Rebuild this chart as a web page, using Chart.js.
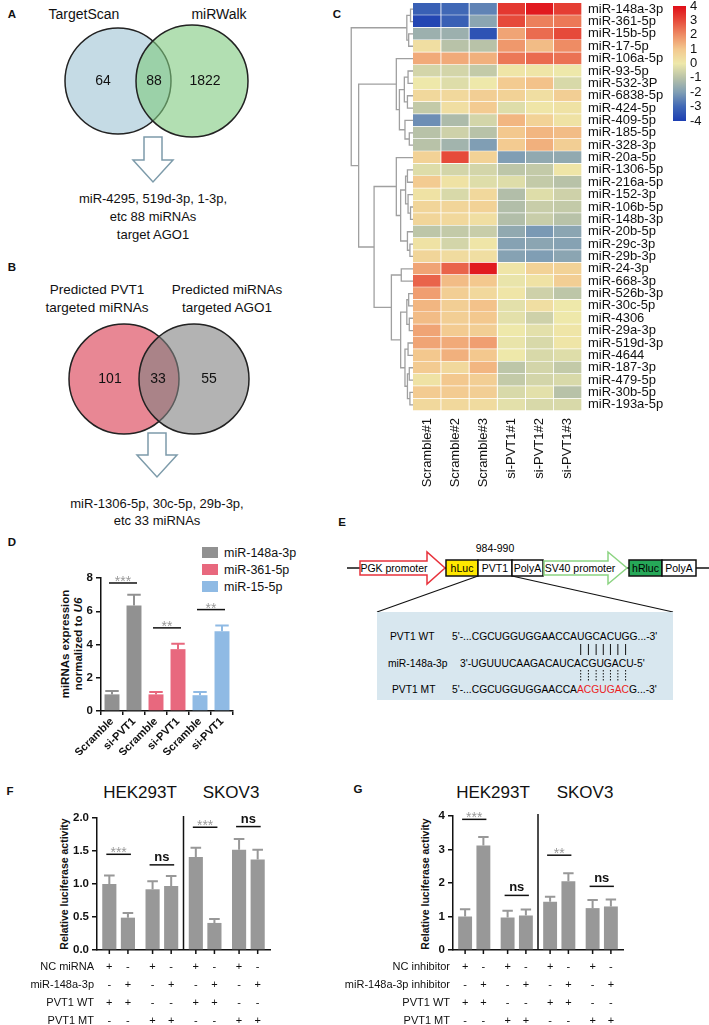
<!DOCTYPE html>
<html>
<head>
<meta charset="utf-8">
<script src="https://cdn.jsdelivr.net/npm/chart.js@4.4.1/dist/chart.umd.min.js"></script>
<style>
body { margin: 0; background: #fff; }
#page { position: relative; width: 709px; height: 1025px; overflow: hidden; font-family: 'Liberation Sans', Arial, sans-serif; color: #111; }
.t { position: absolute; white-space: nowrap; transform: translate(-50%, -50%); line-height: 1; }
.p { position: absolute; font-weight: bold; font-size: 11.5px; transform: translate(-50%, -50%); }
.yt { position: absolute; white-space: nowrap; font-weight: bold; text-align: center; line-height: 1.15; transform: translate(-50%, -50%) rotate(-90deg); }
.lg { position: absolute; font-size: 12.5px; white-space: nowrap; line-height: 1; }
.lg span { display: inline-block; width: 16px; height: 11px; margin-right: 6px; vertical-align: -1px; }
canvas { position: absolute; }
svg { position: absolute; left: 0; top: 0; }
</style>
</head>
<body>
<div id="page">
  <svg width="709" height="1025" font-family="'Liberation Sans', Arial, sans-serif">
    <!-- arrows under the venns -->
    <polygon points="144,137 162,137 162,160 173,160 153,182 133,160 144,160" fill="#fff" stroke="rgb(125,155,170)" stroke-width="1.5"/>
    <polygon points="148,433 166,433 166,455 177,455 157,477 137,455 148,455" fill="#fff" stroke="rgb(125,155,170)" stroke-width="1.5"/>
    <!-- panel E construct -->
    <line x1="347" y1="568" x2="709" y2="568" stroke="#111" stroke-width="1.5"/>
    <polygon points="360,561 427,561 427,552 445,568 427,584 427,575 360,575" fill="#fff" stroke="rgb(232,50,60)" stroke-width="1.5"/>
    <text x="394" y="568" font-size="10.5" text-anchor="middle" dominant-baseline="central">PGK promoter</text>
    <rect x="446" y="560" width="32" height="16" fill="rgb(255,232,0)" stroke="#111" stroke-width="1.5"/>
    <text x="462" y="568" font-size="10.5" text-anchor="middle" dominant-baseline="central">hLuc</text>
    <rect x="478" y="560" width="34" height="16" fill="#fff" stroke="#111" stroke-width="1.5"/>
    <text x="495" y="568" font-size="10.5" text-anchor="middle" dominant-baseline="central">PVT1</text>
    <rect x="512" y="560" width="31" height="16" fill="#fff" stroke="#111" stroke-width="1.5"/>
    <text x="527.5" y="568" font-size="10.5" text-anchor="middle" dominant-baseline="central">PolyA</text>
    <polygon points="544,561 608,561 608,552 627,568 608,584 608,575 544,575" fill="#fff" stroke="rgb(140,212,130)" stroke-width="1.5"/>
    <text x="580" y="568" font-size="10.5" text-anchor="middle" dominant-baseline="central">SV40 promoter</text>
    <rect x="629" y="560" width="33" height="16" fill="rgb(38,168,88)" stroke="#111" stroke-width="1.5"/>
    <text x="645.5" y="568" font-size="10.5" text-anchor="middle" dominant-baseline="central">hRluc</text>
    <rect x="662" y="560" width="34" height="16" fill="#fff" stroke="#111" stroke-width="1.5"/>
    <text x="679" y="568" font-size="10.5" text-anchor="middle" dominant-baseline="central">PolyA</text>
    <text x="495" y="548" font-size="10.5" text-anchor="middle" dominant-baseline="central">984-990</text>
    <line x1="478" y1="576" x2="377" y2="612" stroke="#111" stroke-width="1.2"/>
    <line x1="512" y1="576" x2="673" y2="612" stroke="#111" stroke-width="1.2"/>
    <rect x="377" y="612" width="296" height="88" fill="rgb(216,231,239)"/>
    <text x="390" y="636" font-size="10.3" dominant-baseline="central">PVT1 WT</text>
    <text id="seqWT" x="452" y="636" font-size="10.3" dominant-baseline="central">5'-...CGCUGGUGGAACCAUGCACUGG...-3'</text>
    <text x="388" y="663" font-size="10.3" dominant-baseline="central">miR-148a-3p</text>
    <text x="460" y="663" font-size="10.3" dominant-baseline="central">3'-UGUUUCAAGACAUCACGUGACU-5'</text>
    <text x="392" y="689" font-size="10.3" dominant-baseline="central">PVT1 MT</text>
    <text x="452" y="689" font-size="10.3" dominant-baseline="central">5'-...CGCUGGUGGAACCA<tspan fill="rgb(235,30,30)">ACGUGAC</tspan>G...-3'</text>
    <g id="pairs"></g>
  </svg>

  <div class="p" style="left:12px;top:14px">A</div>
  <div class="t" style="left:84px;top:14px;font-size:14px">TargetScan</div>
  <div class="t" style="left:219px;top:14px;font-size:14px">miRWalk</div>
  <canvas id="vennA" width="300" height="125" style="left:0;top:20px"></canvas>
  <div class="t" style="left:153px;top:198px;font-size:13px">miR-4295, 519d-3p, 1-3p,</div>
  <div class="t" style="left:153px;top:216px;font-size:13px">etc 88 miRNAs</div>
  <div class="t" style="left:153px;top:234px;font-size:13px">target AGO1</div>

  <div class="p" style="left:12px;top:267px">B</div>
  <div class="t" style="left:97px;top:290px;font-size:13.5px">Predicted PVT1</div>
  <div class="t" style="left:97px;top:308px;font-size:13.5px">targeted miRNAs</div>
  <div class="t" style="left:227px;top:290px;font-size:13.5px">Predicted miRNAs</div>
  <div class="t" style="left:227px;top:308px;font-size:13.5px">targeted AGO1</div>
  <canvas id="vennB" width="300" height="125" style="left:0;top:320px"></canvas>
  <div class="t" style="left:157px;top:503px;font-size:13px">miR-1306-5p, 30c-5p, 29b-3p,</div>
  <div class="t" style="left:157px;top:520px;font-size:13px">etc 33 miRNAs</div>

  <div class="p" style="left:337px;top:14px">C</div>
  <canvas id="dendro" width="63" height="408" style="left:350px;top:3px"></canvas>
  <canvas id="heat" width="260" height="500" style="left:413px;top:0"></canvas>
  <canvas id="cbar" width="36" height="128" style="left:673px;top:0"></canvas>

  <div class="p" style="left:12px;top:542px">D</div>
  <div class="lg" style="left:202px;top:547px"><span style="background:rgb(145,145,145)"></span>miR-148a-3p</div>
  <div class="lg" style="left:202px;top:564px"><span style="background:rgb(232,104,126)"></span>miR-361-5p</div>
  <div class="lg" style="left:202px;top:581px"><span style="background:rgb(143,186,228)"></span>miR-15-5p</div>
  <div class="yt" style="left:72px;top:644px;font-size:11.5px">miRNAs expression<br>normalized to <i>U6</i></div>
  <canvas id="chD" width="185" height="185" style="left:55px;top:570px"></canvas>

  <div class="p" style="left:342px;top:522px">E</div>

  <div class="p" style="left:10px;top:791px">F</div>
  <div class="t" style="left:140px;top:792px;font-size:17px">HEK293T</div>
  <div class="t" style="left:231px;top:792px;font-size:17px">SKOV3</div>
  <div class="yt" style="left:64px;top:884px;font-size:10.5px">Relative luciferase activity</div>
  <canvas id="chF" width="285" height="235" style="left:0;top:790px"></canvas>

  <div class="p" style="left:358px;top:789px">G</div>
  <div class="t" style="left:493px;top:792px;font-size:17px">HEK293T</div>
  <div class="t" style="left:585px;top:792px;font-size:17px">SKOV3</div>
  <div class="yt" style="left:425px;top:884px;font-size:10.5px">Relative luciferase activity</div>
  <canvas id="chG" width="298" height="235" style="left:340px;top:790px"></canvas>
</div>

<script>
Chart.defaults.font.family = "'Liberation Sans', Arial, sans-serif";
Chart.defaults.color = '#111';
Chart.defaults.animation = false;
Chart.defaults.responsive = false;
Chart.defaults.plugins.legend.display = false;
Chart.defaults.plugins.tooltip.enabled = false;

// ---- data ----
const vennCountsA = [64, 88, 1822];
const vennCountsB = [101, 33, 55];

const mirNames = ['miR-148a-3p', 'miR-361-5p', 'miR-15b-5p', 'miR-17-5p', 'miR-106a-5p', 'miR-93-5p',
  'miR-532-3P', 'miR-6838-5p', 'miR-424-5p', 'miR-409-5p', 'miR-185-5p', 'miR-328-3p', 'miR-20a-5p',
  'miR-1306-5p', 'miR-216a-5p', 'miR-152-3p', 'miR-106b-5p', 'miR-148b-3p', 'miR-20b-5p', 'miR-29c-3p',
  'miR-29b-3p', 'miR-24-3p', 'miR-668-3p', 'miR-526b-3p', 'miR-30c-5p', 'miR-4306', 'miR-29a-3p',
  'miR-519d-3p', 'miR-4644', 'miR-187-3p', 'miR-479-5p', 'miR-30b-5p', 'miR-193a-5p'];
const colNames = ['Scramble#1', 'Scramble#2', 'Scramble#3', 'si-PVT1#1', 'si-PVT1#2', 'si-PVT1#3'];
const heatValues = [
  [-3.2, -3.0, -2.5, 3.3, 3.8, 3.2],
  [-3.8, -3.2, -1.8, 3.0, 2.2, 2.3],
  [-1.5, -1.5, -3.5, 1.6, 2.5, 3.0],
  [0.3, -1.0, -1.0, 1.8, 1.2, 2.0],
  [1.5, 1.5, 1.4, 2.3, 2.5, 2.4],
  [-0.5, -0.5, -0.8, 0.1, 0.1, 0.0],
  [0.0, -0.3, 0.0, 0.9, 1.1, -0.4],
  [0.5, 0.5, 0.8, 0.7, 0.3, 0.8],
  [-0.8, 0.3, 0.9, -0.3, 0.1, 0.2],
  [-2.3, -1.2, -0.5, 1.3, 0.7, 0.2],
  [-1.0, -0.6, -1.0, 1.0, 1.3, 1.2],
  [-1.0, -1.4, -2.0, 0.9, 1.4, 0.8],
  [0.7, 3.0, 0.7, -2.0, -1.7, -1.7],
  [-0.3, -0.5, -0.5, -0.9, -0.8, 0.1],
  [0.9, 0.2, -0.3, -0.3, -0.8, -1.0],
  [0.2, -0.4, 0.5, -1.1, -0.3, -0.6],
  [0.6, 0.6, 0.7, -1.1, -0.7, -0.8],
  [0.6, 0.5, 0.3, -1.1, -0.7, -1.0],
  [-0.9, -0.8, -0.7, -1.7, -2.1, -1.8],
  [0.2, -0.5, 0.1, -1.9, -1.8, -1.9],
  [0.6, 0.4, 0.3, -1.9, -2.0, -1.8],
  [1.6, 2.6, 3.8, 0.1, 0.7, 0.7],
  [2.6, 1.2, 1.0, -0.1, 0.2, 0.8],
  [1.7, 0.8, 0.5, 0.1, -0.6, -0.9],
  [1.3, 0.8, 1.1, -0.2, 0.3, 0.0],
  [1.2, 0.8, 1.0, -0.2, -0.6, 0.0],
  [1.6, 0.9, 0.8, 0.0, -0.2, 0.1],
  [1.6, 1.5, 1.7, -0.1, -0.4, 0.1],
  [1.0, 1.4, 1.0, 0.0, -0.4, -0.3],
  [0.9, 0.5, 1.3, -0.9, -0.5, -0.8],
  [0.2, 1.0, 0.8, -0.8, -0.5, -0.4],
  [0.9, 0.9, 0.8, -0.4, -0.2, -1.0],
  [0.5, 0.5, 0.4, -0.2, -0.4, -0.4]
];
// row clustering: [childA, childB, height]; leaves are 0..32, merges get ids 33, 34, ...
const dendroMerges = [
  [0, 1, 0.4], [2, 3, 0.7], [33, 34, 1.0],
  [5, 6, 0.8], [7, 8, 0.9], [36, 37, 1.4], [10, 11, 0.6], [9, 39, 1.3], [38, 40, 2.2], [4, 41, 2.7],
  [13, 14, 0.9], [16, 17, 0.4], [15, 44, 0.8], [43, 45, 1.2], [19, 20, 0.5], [18, 47, 0.9], [46, 48, 2.0], [12, 49, 2.7],
  [21, 22, 1.9], [23, 24, 0.7], [25, 26, 0.6], [52, 53, 1.0], [27, 28, 0.8], [29, 30, 0.6], [31, 32, 0.5],
  [56, 57, 0.9], [55, 58, 1.3], [54, 59, 2.0], [51, 60, 3.5], [50, 61, 6.3], [42, 62, 8.8], [35, 63, 10.0]
];
const cbarTicks = [-4, -3, -2, -1, 0, 1, 2, 3, 4];

const dLabels = ['Scramble', 'si-PVT1', 'Scramble', 'si-PVT1', 'Scramble', 'si-PVT1'];
const dSeries = ['miR-148a-3p', 'miR-361-5p', 'miR-15-5p'];
const dMeans = [[1.0, 6.35], [1.0, 3.72], [0.95, 4.8]];
const dErrs = [[0.2, 0.65], [0.15, 0.33], [0.2, 0.35]];
const dSig = [['***', 7.7], ['**', 5.0], ['**', 6.1]];

const fGroups = ['HEK293T WT', 'HEK293T MT', 'SKOV3 WT', 'SKOV3 MT'];
const fNC = [1.0, 0.92, 1.41, 1.52];
const fNCErr = [0.13, 0.12, 0.14, 0.16];
const fMiR = [0.49, 0.97, 0.41, 1.37];
const fMiRErr = [0.07, 0.15, 0.06, 0.15];
const fSig = [['***', 1.45], ['ns', 1.29], ['***', 1.86], ['ns', 1.87]];
const fRowNames = ['NC miRNA', 'miR-148a-3p', 'PVT1 WT', 'PVT1 MT'];

const gNC = [1.0, 0.97, 1.44, 1.25];
const gNCErr = [0.22, 0.2, 0.15, 0.24];
const gInh = [3.12, 1.03, 2.05, 1.3];
const gInhErr = [0.25, 0.18, 0.24, 0.21];
const gSig = [['***', 3.9], ['ns', 1.63], ['**', 2.83], ['ns', 1.9]];
const gRowNames = ['NC inhibitor', 'miR-148a-3p inhibitor', 'PVT1 WT', 'PVT1 MT'];

const signRows = [
  ['+', '-', '+', '-', '+', '-', '+', '-'],
  ['-', '+', '-', '+', '-', '+', '-', '+'],
  ['+', '+', '-', '-', '+', '+', '-', '-'],
  ['-', '-', '+', '+', '-', '-', '+', '+']
];

// ---- helpers ----
const heatStops = [
  [-4, [28, 62, 178]], [-3, [64, 104, 182]], [-2, [128, 158, 180]], [-1, [184, 194, 168]],
  [0, [238, 232, 170]], [1, [243, 200, 142]], [2, [238, 140, 100]], [3, [230, 74, 58]], [4, [224, 14, 24]]
];
function heatColor(v) {
  v = Math.max(-4, Math.min(4, v));
  for (let i = 0; i < heatStops.length - 1; i++) {
    const [a, ca] = heatStops[i], [b, cb] = heatStops[i + 1];
    if (v <= b) {
      const t = (v - a) / (b - a);
      return 'rgb(' + ca.map((c, k) => Math.round(c + (cb[k] - c) * t)).join(',') + ')';
    }
  }
}
function pin(size) {
  return s => {
    if (s.isHorizontal()) s.height = size; else s.width = size;
    s.paddingLeft = 0; s.paddingRight = 0; s.paddingTop = 0; s.paddingBottom = 0;
  };
}

// venn numbers drawn at the region centres
const vennText = {
  id: 'vennText',
  afterDatasetsDraw(chart, args, opts) {
    const c = chart.ctx;
    c.save();
    c.font = '14px ' + Chart.defaults.font.family;
    c.fillStyle = '#111';
    c.textAlign = 'center';
    c.textBaseline = 'middle';
    opts.counts.forEach((n, i) => {
      c.fillText(String(n), chart.scales.x.getPixelForValue(opts.at[i]), chart.scales.y.getPixelForValue(opts.y));
    });
    c.restore();
  }
};
function venn(id, counts, lay) {
  return new Chart(document.getElementById(id), {
    type: 'bubble',
    data: {
      datasets: [
        { data: [{ x: lay.cx[1], y: lay.cy, r: lay.r[1] }], backgroundColor: lay.fill[1], borderColor: '#222', borderWidth: 1.5, order: 1, clip: false },
        { data: [{ x: lay.cx[0], y: lay.cy, r: lay.r[0] }], backgroundColor: lay.fill[0], borderColor: '#222', borderWidth: 1.5, order: 2, clip: false }
      ]
    },
    options: {
      layout: { padding: 0, autoPadding: false },
      events: [],
      scales: {
        x: { display: false, min: 0, max: 300 },
        y: { display: false, min: 0, max: 125, reverse: true }
      },
      plugins: { vennText: { counts: counts, at: lay.numX, y: lay.cy } }
    },
    plugins: [vennText]
  });
}
venn('vennA', vennCountsA, { cx: [118, 192], cy: 61, r: [53, 56], numX: [103, 154, 205],
  fill: ['rgb(197,219,229)', 'rgba(127,202,127,0.6)'] });
venn('vennB', vennCountsB, { cx: [124, 194], cy: 59, r: [55, 55], numX: [110, 158, 209],
  fill: ['rgb(232,135,148)', 'rgba(128,128,128,0.6)'] });

// ---- heatmap (C) ----
new Chart(document.getElementById('heat'), {
  type: 'bar',
  data: {
    labels: mirNames,
    datasets: colNames.map((c, j) => ({
      label: c,
      data: mirNames.map(() => 1),
      backgroundColor: heatValues.map(r => heatColor(r[j])),
      borderColor: '#fff',
      borderWidth: { top: 0, left: 0, right: 1, bottom: 1 },
      borderSkipped: false,
      barPercentage: 1,
      categoryPercentage: 1
    }))
  },
  options: {
    indexAxis: 'y',
    layout: { padding: { top: 3, left: 0, right: 0, bottom: 0 }, autoPadding: false },
    scales: {
      x: {
        stacked: true, min: 0, max: colNames.length,
        afterBuildTicks: s => { s.ticks = colNames.map((c, i) => ({ value: i + 0.5 })); },
        ticks: { callback: (v, i) => colNames[i], minRotation: 90, maxRotation: 90, autoSkip: false,
          font: { size: 13 }, color: '#111', padding: 7 },
        grid: { display: false, drawTicks: false }, border: { display: false },
        afterFit: pin(89)
      },
      y: {
        stacked: true, position: 'right',
        ticks: { autoSkip: false, font: { size: 13 }, color: '#111', padding: 6 },
        grid: { display: false, drawTicks: false }, border: { display: false },
        afterFit: pin(91)
      }
    }
  }
});

// dendrogram on the left of the heatmap
const nodePos = mirNames.map((m, i) => ({ y: i, h: 0 }));
dendroMerges.forEach(([a, b, h]) => nodePos.push({ y: (nodePos[a].y + nodePos[b].y) / 2, h: h }));
new Chart(document.getElementById('dendro'), {
  type: 'scatter',
  data: {
    datasets: dendroMerges.map(([a, b, h]) => ({
      data: [
        { x: nodePos[a].h, y: nodePos[a].y }, { x: h, y: nodePos[a].y },
        { x: h, y: nodePos[b].y }, { x: nodePos[b].h, y: nodePos[b].y }
      ],
      showLine: true, borderColor: 'rgb(160,160,160)', borderWidth: 1.3, pointRadius: 0, clip: false
    }))
  },
  options: {
    layout: { padding: 0, autoPadding: false },
    events: [],
    scales: {
      x: { display: false, min: 0, max: 10.2, reverse: true },
      y: { display: false, min: -0.5, max: mirNames.length - 0.5, reverse: true }
    }
  }
});

// colour key
new Chart(document.getElementById('cbar'), {
  type: 'bar',
  data: {
    labels: [''],
    datasets: [{
      data: [[cbarTicks[0], cbarTicks[cbarTicks.length - 1]]],
      barPercentage: 1, categoryPercentage: 1,
      backgroundColor: ctx => {
        const ch = ctx.chart, area = ch.chartArea;
        if (!area) return '#ccc';
        const g = ch.ctx.createLinearGradient(0, area.bottom, 0, area.top);
        cbarTicks.forEach(v => g.addColorStop((v + 4) / 8, heatColor(v)));
        return g;
      }
    }]
  },
  options: {
    layout: { padding: { top: 6, bottom: 7, left: 0, right: 0 }, autoPadding: false },
    scales: {
      x: { display: false },
      y: { position: 'right', min: -4, max: 4,
        ticks: { stepSize: 1, autoSkip: false, font: { size: 13 }, color: '#111', padding: 4 },
        grid: { display: false, drawTicks: false }, border: { display: false }, afterFit: pin(23) }
    }
  }
});

// ---- bar panels (D, F, G) ----
const extras = {
  id: 'extras',
  afterDatasetsDraw(chart, args, o) {
    const c = chart.ctx, ys = chart.scales.y, area = chart.chartArea;
    const bars = [];
    chart.data.datasets.forEach((ds, di) => {
      chart.getDatasetMeta(di).data.forEach((el, i) => {
        if (ds.data[i] == null) return;
        bars.push({ x: el.x, w: el.width, v: ds.data[i], e: o.errors[di][i], col: ds.backgroundColor });
      });
    });
    bars.sort((p, q) => p.x - q.x);
    c.save();
    // error bars
    bars.forEach(b => {
      const top = ys.getPixelForValue(b.v + b.e), base = ys.getPixelForValue(b.v);
      c.strokeStyle = b.col; c.lineWidth = 2;
      c.beginPath();
      c.moveTo(b.x, base); c.lineTo(b.x, top);
      c.moveTo(b.x - b.w * o.cap / 2, top); c.lineTo(b.x + b.w * o.cap / 2, top);
      c.stroke();
    });
    // significance
    c.textAlign = 'center';
    o.sig.forEach(([txt, lvl], k) => {
      const a = bars[2 * k], b = bars[2 * k + 1], y = ys.getPixelForValue(lvl);
      c.strokeStyle = '#111'; c.lineWidth = 1.5;
      c.beginPath(); c.moveTo(a.x - 3, y); c.lineTo(b.x + 3, y); c.stroke();
      if (txt === 'ns') {
        c.font = 'bold 13px ' + Chart.defaults.font.family; c.fillStyle = '#111';
        c.textBaseline = 'alphabetic'; c.fillText(txt, (a.x + b.x) / 2, y - 4);
      } else {
        c.font = '14px ' + Chart.defaults.font.family; c.fillStyle = '#9a9a9a';
        c.textBaseline = 'alphabetic'; c.fillText(txt, (a.x + b.x) / 2, y + 3);
      }
    });
    if (o.divider) {
      const x = (bars[3].x + bars[4].x) / 2;
      c.strokeStyle = '#111'; c.lineWidth = 1.5;
      c.beginPath(); c.moveTo(x, area.top - 2); c.lineTo(x, area.bottom); c.stroke();
    }
    if (o.rows) {
      c.strokeStyle = '#111'; c.lineWidth = 1.5;
      bars.forEach(b => { c.beginPath(); c.moveTo(b.x, area.bottom); c.lineTo(b.x, area.bottom + 4); c.stroke(); });
      c.font = '11px ' + Chart.defaults.font.family; c.fillStyle = '#111'; c.textBaseline = 'middle';
      o.rows.forEach((name, r) => {
        const y = area.bottom + 17 + r * 18;
        c.textAlign = 'right'; c.fillText(name, area.left - 3, y);
        c.textAlign = 'center';
        o.signs[r].forEach((s, i) => c.fillText(s, bars[i].x, y));
      });
    }
    c.restore();
  }
};

function yAxis(max, step, width, fmt) {
  return {
    min: 0, max: max,
    ticks: { stepSize: step, font: { size: 11.5, weight: 'bold' }, color: '#111', padding: 3, callback: fmt },
    grid: { drawOnChartArea: false, tickLength: 5, color: '#111', lineWidth: 1.5 },
    border: { color: '#111', width: 1.5 },
    afterFit: pin(width)
  };
}

// D: one dataset per miRNA, each occupying its own pair of slots
new Chart(document.getElementById('chD'), {
  type: 'bar',
  data: {
    labels: dLabels,
    datasets: dSeries.map((s, k) => ({
      label: s,
      data: dLabels.map((l, i) => Math.floor(i / 2) === k ? dMeans[k][i % 2] : null),
      backgroundColor: ['rgb(145,145,145)', 'rgb(232,104,126)', 'rgb(143,186,228)'][k],
      barPercentage: 0.68, categoryPercentage: 1
    }))
  },
  options: {
    layout: { padding: { top: 8, right: 7, left: 0, bottom: 0 } },
    scales: {
      x: {
        stacked: true,
        ticks: { font: { size: 11, weight: 'bold' }, color: '#111', minRotation: 45, maxRotation: 45, autoSkip: false, padding: 0 },
        grid: { drawOnChartArea: false, tickLength: 4, color: '#111', lineWidth: 1.5 },
        border: { color: '#111', width: 1.5 },
        afterFit: pin(44)
      },
      y: Object.assign(yAxis(8, 2, 46), { stacked: true })
    },
    plugins: {
      extras: {
        errors: dSeries.map((s, k) => dLabels.map((l, i) => Math.floor(i / 2) === k ? dErrs[k][i % 2] : 0)),
        sig: dSig, cap: 0.9, divider: false
      }
    }
  },
  plugins: [extras]
});

function luciferase(id, first, firstErr, second, secondErr, sig, rowNames, ymax, step, fmt, yw, padTop, names) {
  new Chart(document.getElementById(id), {
    type: 'bar',
    data: {
      labels: fGroups,
      datasets: [
        { label: names[0], data: first, backgroundColor: 'rgb(152,152,152)', categoryPercentage: 0.86, barPercentage: 0.76 },
        { label: names[1], data: second, backgroundColor: 'rgb(152,152,152)', categoryPercentage: 0.86, barPercentage: 0.76 }
      ]
    },
    options: {
      layout: { padding: { top: padTop, right: 15, left: 0, bottom: 0 } },
      scales: {
        x: { ticks: { display: false }, grid: { display: false }, border: { color: '#111', width: 1.5 }, afterFit: pin(75) },
        y: yAxis(ymax, step, yw, fmt)
      },
      plugins: {
        extras: { errors: [firstErr, secondErr], sig: sig, cap: 0.75, divider: true, rows: rowNames, signs: signRows }
      }
    },
    plugins: [extras]
  });
}
luciferase('chF', fNC, fNCErr, fMiR, fMiRErr, fSig, fRowNames, 2, 0.5, v => v.toFixed(1), 97, 28, ['NC miRNA', 'miR-148a-3p']);
luciferase('chG', gNC, gNCErr, gInh, gInhErr, gSig, gRowNames, 4, 1, v => v, 113, 26, ['NC inhibitor', 'miR-148a-3p inhibitor']);

// base-pairing ticks under the seed match in panel E
const wt = document.getElementById('seqWT');
const seed = wt.textContent.indexOf('UGCACUG');
const pairs = document.getElementById('pairs');
for (let k = 0; k < 7; k++) {
  const ext = wt.getExtentOfChar(seed + k);
  const x = ext.x + ext.width / 2;
  [[644, 655, null], [670, 681, '1.5 1.5']].forEach(([y1, y2, dash]) => {
    const ln = document.createElementNS('http://www.w3.org/2000/svg', 'line');
    ln.setAttribute('x1', x); ln.setAttribute('x2', x);
    ln.setAttribute('y1', y1); ln.setAttribute('y2', y2);
    ln.setAttribute('stroke', '#111'); ln.setAttribute('stroke-width', '1');
    if (dash) ln.setAttribute('stroke-dasharray', dash);
    pairs.appendChild(ln);
  });
}
</script>
</body>
</html>
